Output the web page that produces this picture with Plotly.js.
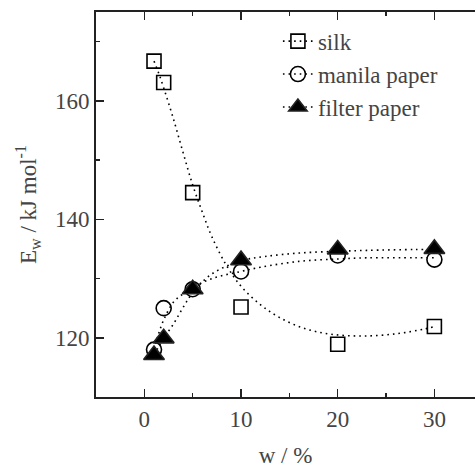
<!DOCTYPE html>
<html>
<head>
<meta charset="utf-8">
<script src="https://cdn.plot.ly/plotly-3.0.1.min.js"></script>
<style>
html,body{margin:0;padding:0;background:#fff;}
#chart{width:475px;height:468px;}
</style>
</head>
<body>
<div id="chart"></div>
<script>
// Measured data
const w = [1, 2, 5, 10, 20, 30];
const silk = [166.7, 163.1, 144.5, 125.2, 118.9, 121.9];
const manila = [118.0, 125.0, 128.2, 131.2, 133.9, 133.2];
const filterPaper = [117.1, 119.9, 128.2, 133.1, 134.9, 135.0];

// Fitted (dotted) curves
const silkFitX = [1, 1.5, 2, 3, 4, 5, 6, 7, 8.5, 10, 12, 14, 16.5, 19.3, 22.7, 26.2, 29, 30];
const silkFitY = [166.7, 164.6, 162.2, 157.0, 151.3, 145.8, 141.2, 137.0, 132.2, 128.7, 125.6, 123.4, 121.6, 120.6, 120.3, 120.7, 121.5, 121.9];
const manilaFitX = [1, 1.5, 2, 3, 4, 5, 7, 10, 12, 16, 20, 23, 28, 30];
const manilaFitY = [118.0, 120.8, 123.0, 126.0, 127.4, 128.5, 130.0, 131.2, 131.9, 132.9, 133.3, 133.5, 133.5, 133.5];
const filterFitX = [1, 2, 3, 4, 5, 7, 10, 12.4, 16, 20, 23, 28, 30];
const filterFitY = [117.1, 119.9, 122.3, 125.1, 127.6, 130.8, 133.0, 133.7, 134.3, 134.6, 134.75, 134.9, 134.9];

const names = ['silk', 'manila paper', 'filter paper'];
const symbols = ['square-open', 'circle-open', 'triangle-up'];
const sizes = [14, 15, 18];

const series = [
  {y: silk, fx: silkFitX, fy: silkFitY},
  {y: manila, fx: manilaFitX, fy: manilaFitY},
  {y: filterPaper, fx: filterFitX, fy: filterFitY}
];

// isolate points with gaps so the marker trace draws no connecting line,
// while its legend entry still shows the dotted line with the marker
function isolate(arr) { return arr.flatMap(v => [v, null]); }

const traces = [];
series.forEach((s, i) => {
  traces.push({x: s.fx, y: s.fy, mode: 'lines',
    line: {color: '#000', width: 1.6, dash: '1.6px,4px', shape: 'spline'},
    showlegend: false, hoverinfo: 'skip'});
});
series.forEach((s, i) => {
  traces.push({
    x: isolate(w), y: isolate(s.y), name: names[i], mode: 'lines+markers',
    connectgaps: false, cliponaxis: false, showlegend: true,
    line: {color: '#000', width: 1.6, dash: '1.6px,4px'},
    marker: {symbol: symbols[i], size: sizes[i], color: '#000', line: {color: '#222', width: 1.6}}
  });
});

function F(size) { return {family: 'Liberation Serif', size: size}; }

const layout = {
  width: 475, height: 468,
  margin: {l: 96, r: 0, t: 12, b: 71},
  showlegend: true,
  legend: {x: 0.48, y: 0.98, xanchor: 'left', yanchor: 'top', bgcolor: 'rgba(0,0,0,0)',
           font: F(23), tracegroupgap: 0},
  xaxis: {
    range: [-5, 34.2], showgrid: false, zeroline: false,
    showline: true, linecolor: '#222', linewidth: 2, mirror: 'ticks',
    ticks: 'inside', ticklen: 8, tickwidth: 1.5, tickcolor: '#222',
    tickvals: [0, 10, 20, 30], ticktext: ['0', '10', '20', '30'],
    minor: {tickvals: [5, 15, 25], ticks: 'inside', ticklen: 4, tickwidth: 1.5, tickcolor: '#222'},
    tickfont: F(23),
    title: {text: 'w / %', font: F(23), standoff: 20}
  },
  yaxis: {
    range: [110, 175], showgrid: false, zeroline: false,
    showline: true, linecolor: '#222', linewidth: 2, mirror: false,
    ticks: 'inside', ticklen: 8, tickwidth: 1.5, tickcolor: '#222',
    tickvals: [120, 140, 160], ticktext: ['120', '140', '160'],
    minor: {tickvals: [130, 150, 170], ticks: 'inside', ticklen: 4, tickwidth: 1.5, tickcolor: '#222'},
    tickfont: F(23),
    title: {text: 'E<sub>w</sub> / kJ mol<sup>-1</sup>', font: F(23), standoff: 12}
  }
};

Plotly.newPlot('chart', traces, layout, {displayModeBar: false, staticPlot: true});
</script>
</body>
</html>
